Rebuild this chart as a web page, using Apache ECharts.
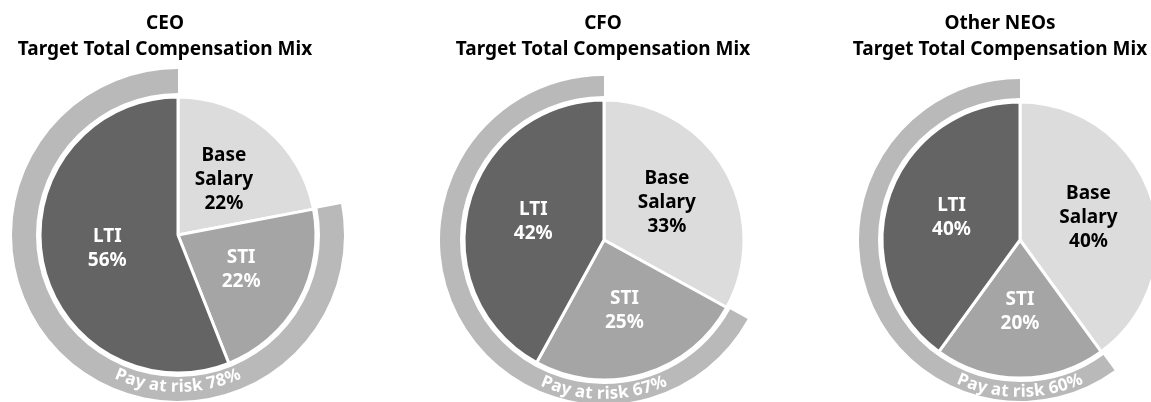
<!DOCTYPE html>
<html>
<head>
<meta charset="utf-8">
<script src="https://cdn.jsdelivr.net/npm/echarts@6/dist/echarts.min.js"></script>
<style>
    html, body { margin: 0; padding: 0; background: #fff; }
    #main { width: 1151px; height: 402px; }
</style>
</head>
<body>
<div id="main"></div>
<script>
    // chart data
    const roles = ['CEO', 'CFO', 'Other NEOs'];
    const components = ['Base Salary', 'STI', 'LTI'];
    const ceoMix = [22, 22, 56];
    const cfoMix = [33, 25, 42];
    const neoMix = [40, 20, 40];
    const payAtRisk = [78, 67, 60];

    const mixes = [ceoMix, cfoMix, neoMix];
    const sliceColors = ['#dcdcdc', '#a5a5a5', '#646464'];
    const labelColors = ['#000', '#fff', '#fff'];
    const ringColor = '#b9b9b9';
    const fontFamily = '"Noto Sans", sans-serif';

    // layout of each pie
    const layout = [
        { titleX: 160, center: [178, 235], r: 138, ring: [142, 166] },
        { titleX: 598, center: [604, 240], r: 140, ring: [144, 164] },
        { titleX: 995, center: [1020, 240], r: 138, ring: [142, 161] }
    ];

    let chart = echarts.init(document.getElementById('main'));

    let titles = [];
    let series = [];
    let graphics = [];

    // text bent along the bottom of the ring
    function arcText(text, cx, cy, rad, size) {
        let ctx = document.createElement('canvas').getContext('2d');
        ctx.font = 'bold ' + size + 'px ' + fontFamily;
        let total = ctx.measureText(text).width;
        let s = -total / 2;
        let out = [];
        for (let ch of text) {
            let w = ctx.measureText(ch).width;
            let mid = s + w / 2;
            let theta = Math.PI / 2 - mid / rad;
            out.push({
                type: 'text',
                z: 100,
                silent: true,
                x: cx + rad * Math.cos(theta),
                y: cy + rad * Math.sin(theta),
                rotation: Math.PI / 2 - theta,
                style: {
                    text: ch,
                    fill: '#fff',
                    fontSize: size,
                    fontWeight: 'bold',
                    fontFamily: fontFamily,
                    textAlign: 'center',
                    textVerticalAlign: 'middle',
                    align: 'center',
                    verticalAlign: 'middle'
                }
            });
            s += w;
        }
        return out;
    }

    roles.forEach(function (role, i) {
        let mix = mixes[i];
        let lay = layout[i];

        titles.push({
            text: role + '\nTarget Total Compensation Mix',
            left: lay.titleX,
            top: 6,
            textAlign: 'center',
            textStyle: {
                fontFamily: fontFamily,
                fontWeight: 'bold',
                fontSize: 19,
                lineHeight: 26,
                color: '#000'
            }
        });

        // pay at risk ring
        series.push({
            type: 'pie',
            silent: true,
            center: lay.center,
            radius: lay.ring,
            startAngle: 90,
            clockwise: true,
            label: { show: false },
            labelLine: { show: false },
            data: [
                { value: 100 - payAtRisk[i], name: 'base', itemStyle: { color: 'rgba(0,0,0,0)' } },
                { value: payAtRisk[i], name: 'Pay at risk', itemStyle: { color: ringColor } }
            ]
        });

        series.push({
            type: 'pie',
            silent: true,
            center: lay.center,
            radius: [0, lay.r],
            startAngle: 90,
            clockwise: true,
            itemStyle: {
                borderColor: '#fff',
                borderWidth: 3
            },
            label: {
                show: true,
                position: 'inside',
                fontFamily: fontFamily,
                fontWeight: 'bold',
                fontSize: 19,
                lineHeight: 24,
                formatter: function (p) {
                    return p.name.replace(' ', '\n') + '\n' + p.value + '%';
                }
            },
            labelLine: { show: false },
            data: components.map(function (name, k) {
                return {
                    name: name,
                    value: mix[k],
                    itemStyle: { color: sliceColors[k] },
                    label: { color: labelColors[k] }
                };
            })
        });

        let ringMid = lay.ring[0] + 10;
        graphics = graphics.concat(arcText('Pay at risk ' + payAtRisk[i] + '%', lay.center[0], lay.center[1], ringMid, 17));
    });

    let option = {
        animation: false,
        title: titles,
        series: series,
        graphic: graphics
    };

    chart.setOption(option);
    window.addEventListener('resize', function () {
        chart.resize();
    });
</script>
</body>
</html>
